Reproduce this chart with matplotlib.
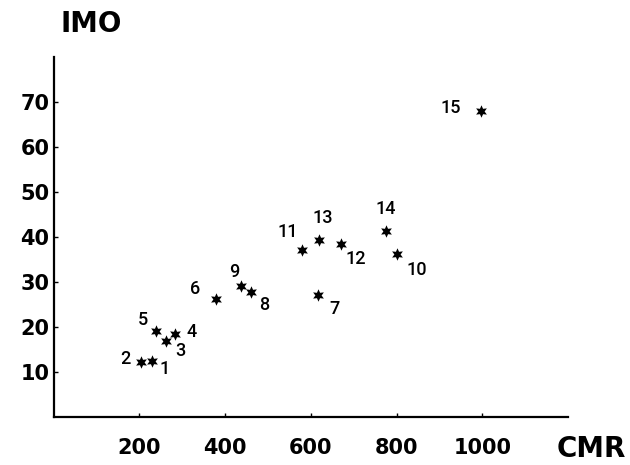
import matplotlib
matplotlib.use("Agg")
import matplotlib.pyplot as plt

# Data
ids = ["1", "2", "3", "4", "5", "6", "7", "8", "9", "10", "11", "12", "13", "14", "15"]
cmr = [229, 203, 263, 284, 238, 380, 618, 461, 438, 802, 580, 670, 619, 775, 998]
imo = [12.4, 12.3, 16.8, 18.5, 19.2, 26.3, 27.2, 27.7, 29.2, 36.2, 37.1, 38.4, 39.3, 41.4, 68.0]
# label offsets (pixels: right, up)
label_dx = [13, -15, 14, 16, -13, -21, 16, 13, -7, 19, -14, 15, 4, 0, -31]
label_dy = [-8, 3, -10, 2, 11, 10, -14, -13, 14, -16, 18, -15, 22, 22, 3]

xticks = [200, 400, 600, 800, 1000]
yticks = [10, 20, 30, 40, 50, 60, 70]

fig = plt.figure(figsize=(6.3, 4.65), dpi=100)
ax = fig.add_axes([53.5 / 630, (465 - 417) / 465, (568 - 53.5) / 630, (417 - 57) / 465])

ax.scatter(cmr, imo, marker=(6, 1, 0), s=80, color="black", zorder=3, linewidths=0)
for t, x, y, dx, dy in zip(ids, cmr, imo, label_dx, label_dy):
    ax.annotate(t, (x, y), xytext=(dx, dy), textcoords="offset pixels",
                ha="center", va="center", fontsize=13, family="Roboto", fontweight="medium")

ax.set_xlim(0, 1200)
ax.set_ylim(0, 80)
for s in ["top", "right"]:
    ax.spines[s].set_visible(False)
for s in ["left", "bottom"]:
    ax.spines[s].set_linewidth(1.6)

ax.set_xticks(xticks)
ax.set_yticks(yticks)
ax.set_xticklabels([str(v) for v in xticks], fontsize=15, fontweight="bold")
ax.set_yticklabels([str(v) for v in yticks], fontsize=15, fontweight="bold")
ax.tick_params(axis="x", direction="in", length=3, width=1, pad=15)
ax.tick_params(axis="y", direction="in", length=3, width=1, pad=3)

fig.text(91 / 630, 1 - 24 / 465, "IMO", ha="center", va="center", fontsize=20, fontweight="heavy")
fig.text(591 / 630, 1 - 449 / 465, "CMR", ha="center", va="center", fontsize=20, fontweight="heavy")

fig.savefig("out.png", dpi=100)
